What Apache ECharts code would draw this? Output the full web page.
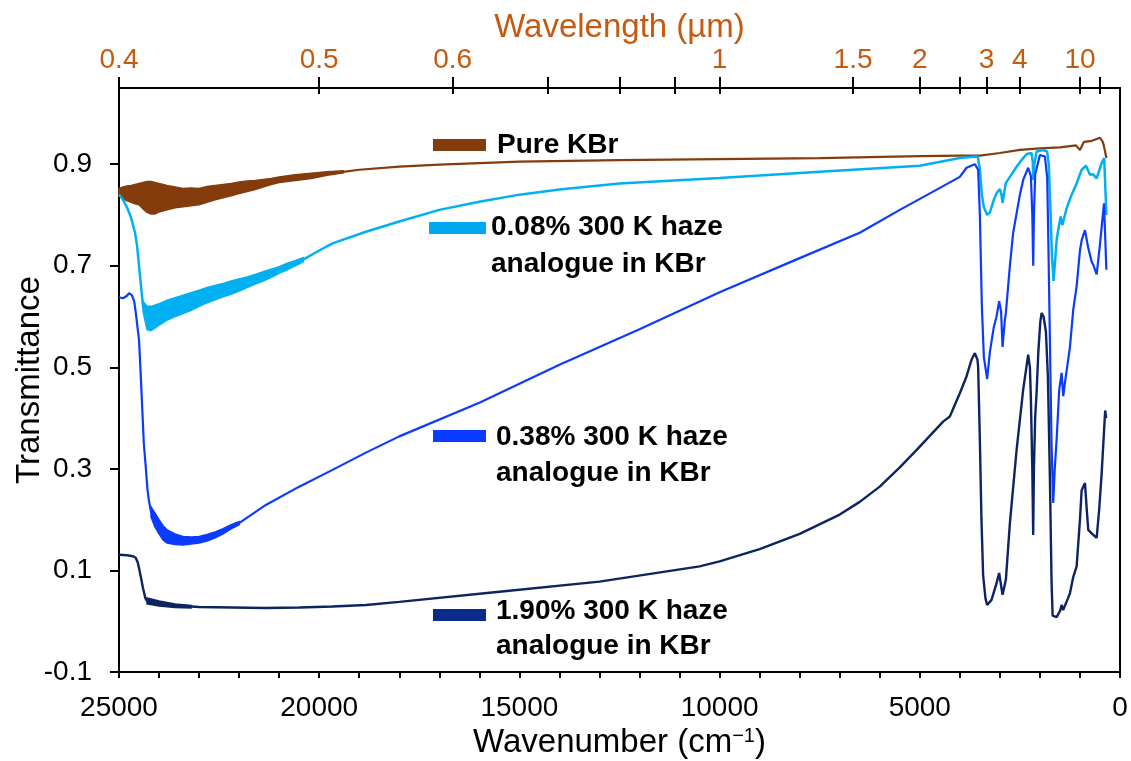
<!DOCTYPE html>
<html><head><meta charset="utf-8">
<script src="https://cdn.jsdelivr.net/npm/echarts@6/dist/echarts.min.js"></script>
<style>html,body{margin:0;padding:0;background:#fff}#c{width:1131px;height:761px}</style>
</head><body><div id="c"></div><script>
// ---- data (wavenumber cm^-1, transmittance) ----
const pureKBr = [[25000,0.845],[24800,0.843],[24600,0.841],[24400,0.838],[24200,0.834],[24000,0.834],[23800,0.834],[23600,0.834],[23400,0.834],[23200,0.835],[23000,0.836],[22800,0.84],[22600,0.844],[22400,0.847],[22200,0.85],[22000,0.853],[21800,0.856],[21600,0.859],[21400,0.862],[21200,0.866],[21000,0.869],[20600,0.873],[20200,0.877],[19800,0.881],[19400,0.885],[19000,0.889],[18000,0.895],[17000,0.899],[16000,0.902],[15000,0.905],[12500,0.908],[10000,0.91],[7500,0.912],[5000,0.916],[4000,0.917],[3500,0.917],[3000,0.922],[2500,0.928],[2000,0.931],[1500,0.933],[1100,0.937],[1000,0.928],[900,0.944],[700,0.946],[500,0.952],[430,0.944],[400,0.935],[340,0.912]];
const pureKBrNoiseHi = [[25000,0.852],[24900,0.855],[24800,0.857],[24700,0.858],[24600,0.86],[24500,0.862],[24400,0.864],[24300,0.866],[24200,0.866],[24100,0.864],[24000,0.862],[23800,0.858],[23600,0.855],[23400,0.852],[23200,0.853],[23000,0.852],[22800,0.856],[22600,0.858],[22400,0.86],[22200,0.862],[22000,0.865],[21800,0.867],[21600,0.868],[21400,0.87],[21200,0.872],[21000,0.875],[20600,0.879],[20200,0.882],[19800,0.885],[19400,0.887]];
const pureKBrNoiseLo = [[25000,0.838],[24900,0.832],[24800,0.828],[24700,0.825],[24600,0.822],[24500,0.82],[24400,0.812],[24300,0.805],[24200,0.802],[24100,0.802],[24000,0.806],[23800,0.81],[23600,0.814],[23400,0.816],[23200,0.818],[23000,0.82],[22800,0.825],[22600,0.83],[22400,0.834],[22200,0.838],[22000,0.842],[21800,0.846],[21600,0.85],[21400,0.855],[21200,0.86],[21000,0.864],[20600,0.868],[20200,0.872],[19800,0.878],[19400,0.883]];

const haze008 = [[25000,0.84],[24900,0.83],[24800,0.815],[24700,0.795],[24650,0.78],[24600,0.765],[24550,0.74],[24500,0.70],[24450,0.66],[24400,0.62],[24300,0.597],[24200,0.596],[24000,0.604],[23800,0.612],[23600,0.618],[23400,0.624],[23200,0.63],[23000,0.636],[22800,0.642],[22600,0.647],[22400,0.652],[22200,0.657],[22000,0.662],[21800,0.668],[21600,0.674],[21400,0.679],[21200,0.685],[21000,0.692],[20800,0.698],[20600,0.705],[20400,0.712],[20000,0.73],[19668,0.744],[18833,0.767],[18000,0.787],[17000,0.81],[16000,0.826],[15000,0.84],[14000,0.85],[12500,0.862],[10000,0.873],[7500,0.885],[5000,0.897],[4000,0.912],[3600,0.915],[3550,0.914],[3500,0.89],[3450,0.84],[3400,0.815],[3318,0.80],[3250,0.805],[3150,0.83],[3083,0.843],[3000,0.851],[2960,0.84],[2933,0.824],[2880,0.85],[2850,0.863],[2750,0.875],[2583,0.895],[2418,0.912],[2330,0.92],[2210,0.922],[2180,0.905],[2165,0.869],[2140,0.9],[2083,0.925],[1925,0.928],[1820,0.925],[1780,0.9],[1740,0.82],[1700,0.72],[1660,0.67],[1620,0.71],[1583,0.75],[1550,0.767],[1483,0.797],[1440,0.78],[1418,0.78],[1375,0.80],[1333,0.813],[1208,0.84],[1083,0.862],[958,0.889],[850,0.897],[750,0.879],[670,0.88],[583,0.872],[458,0.902],[395,0.912],[340,0.80]];
const haze008NoiseHi = [[24400,0.63],[24300,0.62],[24200,0.62],[24000,0.625],[23800,0.632],[23600,0.637],[23400,0.642],[23200,0.647],[23000,0.652],[22800,0.657],[22600,0.661],[22400,0.665],[22200,0.67],[22000,0.674],[21800,0.678],[21600,0.683],[21400,0.688],[21200,0.693],[21000,0.698],[20800,0.705],[20600,0.71],[20400,0.716]];
const haze008NoiseLo = [[24400,0.61],[24300,0.574],[24200,0.572],[24000,0.583],[23800,0.593],[23600,0.6],[23400,0.606],[23200,0.612],[23000,0.62],[22800,0.627],[22600,0.633],[22400,0.639],[22200,0.644],[22000,0.65],[21800,0.657],[21600,0.664],[21400,0.67],[21200,0.677],[21000,0.685],[20800,0.692],[20600,0.7],[20400,0.708]];

const haze038 = [[25000,0.638],[24900,0.636],[24800,0.641],[24750,0.646],[24680,0.642],[24620,0.63],[24580,0.607],[24540,0.58],[24500,0.554],[24460,0.49],[24420,0.42],[24380,0.35],[24333,0.305],[24290,0.26],[24250,0.236],[24200,0.215],[24100,0.199],[24000,0.186],[23900,0.174],[23800,0.167],[23600,0.161],[23400,0.158],[23200,0.159],[23000,0.16],[22800,0.164],[22600,0.17],[22400,0.177],[22200,0.186],[22000,0.193],[21333,0.229],[20500,0.265],[19668,0.298],[18833,0.332],[18000,0.364],[16000,0.43],[14000,0.505],[12000,0.575],[10000,0.648],[8000,0.715],[6500,0.765],[5500,0.81],[4668,0.846],[4000,0.875],[3833,0.893],[3625,0.9],[3543,0.889],[3500,0.8],[3450,0.62],[3400,0.52],[3318,0.477],[3250,0.53],[3150,0.58],[3083,0.60],[3018,0.63],[2970,0.61],[2933,0.54],[2880,0.59],[2850,0.607],[2750,0.70],[2668,0.765],[2500,0.84],[2418,0.869],[2293,0.893],[2225,0.876],[2190,0.80],[2168,0.70],[2150,0.80],[2118,0.88],[2000,0.918],[1875,0.915],[1818,0.873],[1790,0.75],[1750,0.55],[1710,0.35],[1668,0.233],[1630,0.30],[1583,0.357],[1518,0.456],[1458,0.489],[1418,0.443],[1375,0.47],[1250,0.54],[1168,0.613],[1083,0.66],[1000,0.73],[958,0.75],[875,0.77],[793,0.735],[708,0.708],[668,0.702],[583,0.683],[500,0.742],[400,0.823],[340,0.692]];
const haze038NoiseHi = [[24200,0.225],[24100,0.213],[24000,0.2],[23900,0.188],[23800,0.18],[23600,0.172],[23400,0.167],[23200,0.166],[23000,0.167],[22800,0.171],[22600,0.176],[22400,0.182],[22200,0.19],[22000,0.196]];
const haze038NoiseLo = [[24200,0.205],[24100,0.185],[24000,0.172],[23900,0.16],[23800,0.154],[23600,0.151],[23400,0.15],[23200,0.152],[23000,0.154],[22800,0.158],[22600,0.164],[22400,0.172],[22200,0.182],[22000,0.19]];

const haze190 = [[25000,0.131],[24800,0.13],[24650,0.128],[24583,0.125],[24530,0.115],[24500,0.105],[24450,0.085],[24400,0.065],[24340,0.045],[24300,0.04],[24000,0.035],[23600,0.031],[23200,0.029],[23000,0.028],[22168,0.027],[21333,0.026],[20500,0.027],[19668,0.029],[18833,0.032],[18000,0.038],[15500,0.058],[13000,0.078],[10500,0.108],[10000,0.118],[9000,0.142],[8000,0.172],[7000,0.21],[6500,0.235],[6000,0.265],[5500,0.303],[5083,0.337],[4418,0.393],[4250,0.403],[4000,0.449],[3833,0.482],[3708,0.515],[3625,0.528],[3560,0.515],[3543,0.501],[3500,0.357],[3460,0.2],[3418,0.09],[3360,0.045],[3318,0.032],[3208,0.042],[3083,0.075],[3018,0.095],[2970,0.07],[2933,0.052],[2850,0.082],[2750,0.193],[2583,0.337],[2418,0.456],[2293,0.525],[2250,0.5],[2225,0.436],[2190,0.30],[2168,0.17],[2150,0.30],[2118,0.403],[2083,0.45],[2040,0.53],[1990,0.59],[1958,0.607],[1910,0.6],[1850,0.57],[1800,0.48],[1750,0.278],[1710,0.08],[1683,0.011],[1583,0.008],[1500,0.02],[1458,0.032],[1420,0.022],[1400,0.025],[1300,0.045],[1250,0.055],[1168,0.087],[1083,0.108],[1000,0.2],[958,0.258],[875,0.272],[830,0.22],[793,0.18],[750,0.178],[708,0.173],[583,0.164],[520,0.22],[458,0.291],[370,0.415],[345,0.40]];
const haze190NoiseHi = [[24300,0.046],[24000,0.04],[23600,0.034],[23200,0.031]];
const haze190NoiseLo = [[24300,0.034],[24000,0.03],[23600,0.027],[23200,0.026]];

// ---- axis ticks ----
const yTickValues = [-0.1, 0.1, 0.3, 0.5, 0.7, 0.9];
const topTickWavelengths = [0.4, 0.5, 0.6, 0.7, 0.8, 0.9, 1, 1.5, 2, 2.5, 3, 4, 10, 20];
const topLabelWavelengths = [0.4, 0.5, 0.6, 1, 1.5, 2, 3, 4, 10];

const FONT = '"Liberation Sans", Arial, sans-serif';
const ORANGE = '#C55A11';
const C_BROWN = '#843C0C', C_LIGHT = '#00B0F0', C_MED = '#0B3BFF', C_DARK = '#0C2461';
const toWn = l => 10000 / l;

const chart = echarts.init(document.getElementById('c'), null, {renderer: 'canvas'});
const axisLine = {show: true, onZero: false, lineStyle: {color: '#000', width: 2}};

function band(hi, lo, color) {
  return {
    type: 'custom', silent: true, data: [[hi[0][0], hi[0][1]]],
    renderItem: function (params, api) {
      const pts = hi.map(p => api.coord(p)).concat(lo.slice().reverse().map(p => api.coord(p)));
      return {type: 'polygon', shape: {points: pts, smooth: 0}, style: {fill: color, stroke: color, lineWidth: 1.5}};
    }
  };
}
function line(data, color, w) {
  return {type: 'line', data: data, showSymbol: false, lineStyle: {color: color, width: w}, itemStyle: {color: color}};
}

chart.setOption({
  animation: false,
  backgroundColor: '#fff',
  grid: {left: 119, right: 11, top: 88, bottom: 89, show: true, borderColor: '#000', borderWidth: 2, containLabel: false, outerBoundsMode: 'none'},
  xAxis: [
    {
      type: 'value', position: 'bottom', min: 0, max: 25000, interval: 5000, inverse: true,
      axisLine: axisLine,
      axisTick: {show: true, inside: false, length: 6, lineStyle: {color: '#000', width: 2}},
      minorTick: {show: true, splitNumber: 5, length: 6, lineStyle: {color: '#000', width: 2}},
      splitLine: {show: false},
      axisLabel: {fontSize: 28, color: '#000', fontFamily: FONT, margin: 22, formatter: v => String(v)},
      name: 'Wavenumber (cm{sup|\u22121})', nameLocation: 'middle', nameGap: 54, nameMoveOverlap: false,
      nameTextStyle: {fontSize: 33, color: '#000', fontFamily: FONT,
        rich: {sup: {fontSize: 20, fontFamily: FONT, color: '#000', verticalAlign: 'top', padding: [0, 0, 14, 0]}}}
    },
    {
      type: 'value', position: 'top', min: 0, max: 25000, inverse: true,
      axisLine: axisLine,
      axisTick: {show: true, inside: false, length: 11, customValues: topTickWavelengths.map(toWn), lineStyle: {color: '#000', width: 2}},
      axisLabel: {show: true, customValues: topLabelWavelengths.map(toWn), fontSize: 28, color: ORANGE, fontFamily: FONT, margin: 14,
        formatter: v => String(+(10000 / v).toPrecision(3))},
      splitLine: {show: false},
      name: 'Wavelength (\u00b5m)', nameLocation: 'middle', nameGap: 44, nameMoveOverlap: false,
      nameTextStyle: {fontSize: 33, color: ORANGE, fontFamily: FONT}
    },
    {
      type: 'value', position: 'top', min: 0, max: 25000, inverse: true,
      axisLine: {show: false, onZero: false},
      axisTick: {show: true, inside: true, length: 6, customValues: topTickWavelengths.map(toWn), lineStyle: {color: '#000', width: 2}},
      axisLabel: {show: false},
      splitLine: {show: false}
    }
  ],
  yAxis: {
    type: 'value', min: -0.1, max: 1.05,
    axisLine: axisLine,
    axisTick: {show: true, inside: false, length: 9, customValues: yTickValues, lineStyle: {color: '#000', width: 2}},
    axisLabel: {customValues: yTickValues, fontSize: 28, color: '#000', fontFamily: FONT, margin: 27, formatter: v => v.toFixed(1)},
    splitLine: {show: false},
    name: 'Transmittance', nameLocation: 'middle', nameGap: 73, nameMoveOverlap: false,
    nameTextStyle: {fontSize: 33, color: '#000', fontFamily: FONT}
  },
  series: [
    band(pureKBrNoiseHi, pureKBrNoiseLo, C_BROWN),
    line(pureKBr, C_BROWN, 2.2),
    band(haze008NoiseHi, haze008NoiseLo, C_LIGHT),
    line(haze008, C_LIGHT, 2.5),
    band(haze038NoiseHi, haze038NoiseLo, C_MED),
    line(haze038, C_MED, 2.2),
    band(haze190NoiseHi, haze190NoiseLo, C_DARK),
    line(haze190, C_DARK, 2.4)
  ],
  graphic: [
    {type: 'rect', shape: {x: 433, y: 139, width: 53, height: 12}, style: {fill: C_BROWN}},
    {type: 'text', x: 497, y: 145, style: {text: 'Pure KBr', font: 'bold 28px ' + FONT, fill: '#000', verticalAlign: 'middle'}},
    {type: 'rect', shape: {x: 429, y: 222, width: 57, height: 12}, style: {fill: '#00A8F0'}},
    {type: 'text', x: 491, y: 209, style: {text: '0.08% 300 K haze\nanalogue in KBr', font: 'bold 28px ' + FONT, fill: '#000', lineHeight: 37, verticalAlign: 'top'}},
    {type: 'rect', shape: {x: 433, y: 430, width: 53, height: 12}, style: {fill: C_MED}},
    {type: 'text', x: 496, y: 419, style: {text: '0.38% 300 K haze\nanalogue in KBr', font: 'bold 28px ' + FONT, fill: '#000', lineHeight: 36, verticalAlign: 'top'}},
    {type: 'rect', shape: {x: 433, y: 609, width: 53, height: 12}, style: {fill: '#0A2A8C'}},
    {type: 'text', x: 496, y: 594, style: {text: '1.90% 300 K haze\nanalogue in KBr', font: 'bold 28px ' + FONT, fill: '#000', lineHeight: 35, verticalAlign: 'top'}}
  ]
});
</script></body></html>
